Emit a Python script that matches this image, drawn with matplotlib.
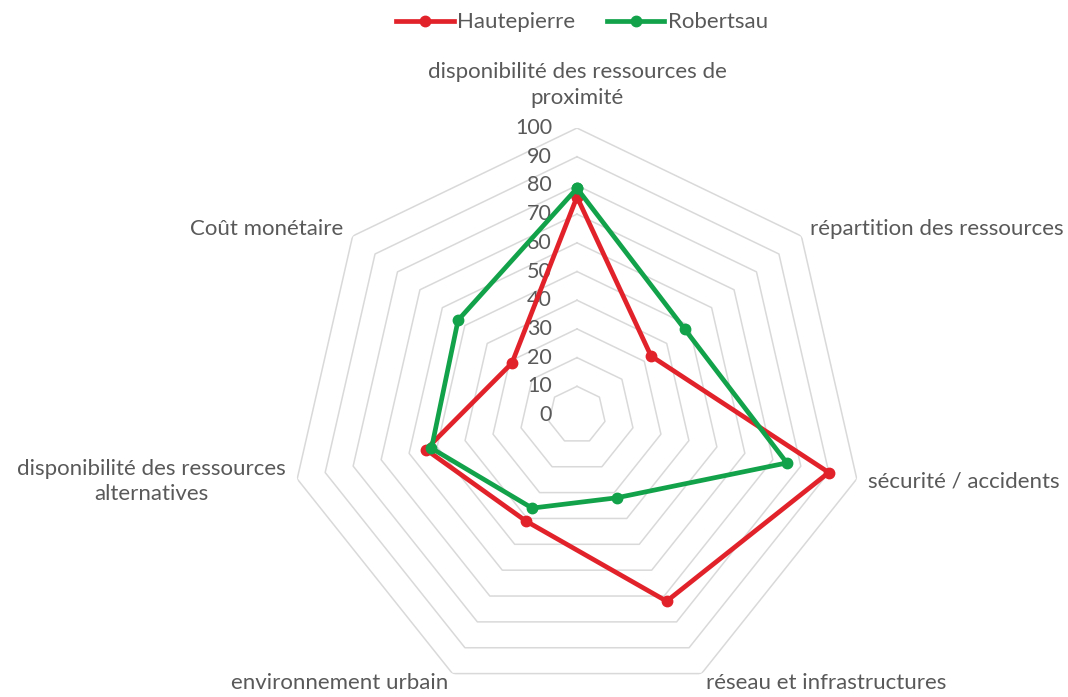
import numpy as np
import matplotlib
matplotlib.use("Agg")
import matplotlib.pyplot as plt
import matplotlib.transforms as mtransforms

plt.rcParams['font.family'] = ['Lato', 'DejaVu Sans']

# categories and scores per district
categories = ["disponibilité des ressources de\nproximité",
              "répartition des ressources",
              "sécurité / accidents",
              "réseau et infrastructures",
              "environnement urbain",
              "disponibilité des ressources\nalternatives",
              "Coût monétaire"]
hautepierre = [76, 33, 90, 72, 41, 54, 29]
robertsau = [79, 48, 75, 32, 36, 52, 53]
ticks = [0, 10, 20, 30, 40, 50, 60, 70, 80, 90, 100]

red = '#E2222B'
green = '#12A24A'
grey_txt = '#595959'

n = len(categories)
theta = np.linspace(0, 2 * np.pi, n, endpoint=False)
closed = np.append(theta, theta[0])

fig = plt.figure(figsize=(10.68, 6.97), dpi=100)
ax = fig.add_axes([0.2715, -0.0072, 0.5375, 0.8235], projection='polar')
ax.set_theta_offset(np.pi / 2)
ax.set_theta_direction(-1)
ax.set_ylim(0, 100)
ax.grid(False)
ax.spines['polar'].set_visible(False)
ax.set_xticks([])
ax.set_yticks([])
ax.patch.set_visible(False)

# heptagon rings
for t in ticks[1:]:
    ax.plot(closed, [t] * (n + 1), color='#D9D9D9', lw=1.1, zorder=1)

# value labels along the top axis
off = mtransforms.offset_copy(ax.transData, fig=fig, x=-25, y=0, units='dots')
for t in ticks:
    ax.text(0, t, str(t), transform=off, ha='right', va='center',
            fontsize=15.5, color=grey_txt)

l1, = ax.plot(closed, hautepierre + hautepierre[:1], color=red, lw=3.4,
              marker='o', ms=7.5, zorder=3, label='Hautepierre')
l2, = ax.plot(closed, robertsau + robertsau[:1], color=green, lw=3.4,
              marker='o', ms=7.5, zorder=4, label='Robertsau')

# category labels around the chart
label_pos = [(107, 'center', 'bottom'),
             (104, 'left', 'center'),
             (104, 'left', 'center'),
             (103.5, 'left', 'center'),
             (103.5, 'right', 'center'),
             (104, 'right', 'center'),
             (104, 'right', 'center')]
for th, lab, (r, ha, va) in zip(theta, categories, label_pos):
    ax.text(th, r, lab, ha=ha, va=va, multialignment='center',
            fontsize=16, color=grey_txt, linespacing=1.35)

fig.legend(handles=[l1, l2], loc='center', bbox_to_anchor=(0.545, 0.968),
           ncol=2, frameon=False, fontsize=16, handlelength=2.6,
           columnspacing=1.4, handletextpad=0.15, labelcolor=grey_txt)

fig.savefig("out.png", dpi=100)
